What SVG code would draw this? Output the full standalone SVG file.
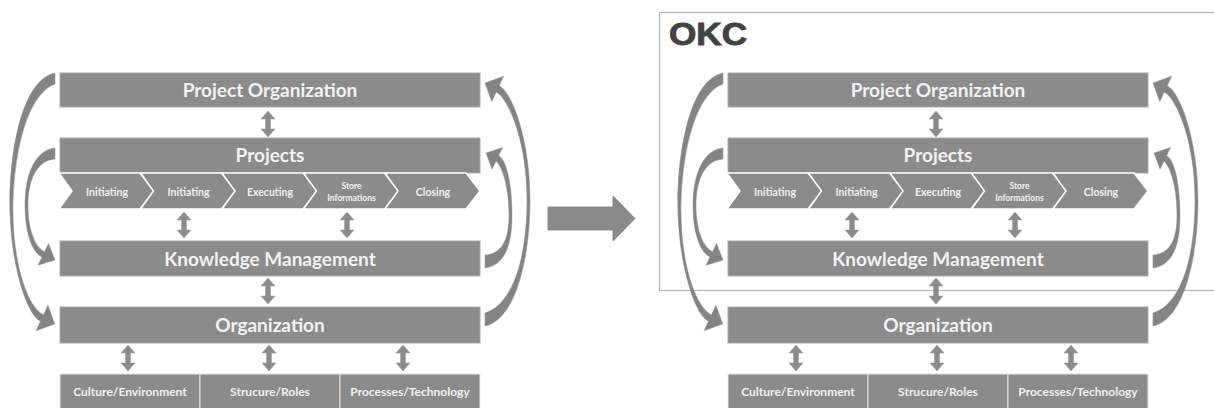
<svg xmlns="http://www.w3.org/2000/svg" width="1214" height="408" viewBox="0 0 1214 408">
  <defs>
    <style>
      .bar { fill: #8b8b8b; stroke: #a9a9a9; stroke-width: 1; }
      .chev { fill: #8b8b8b; stroke: #ffffff; stroke-width: 1.5; stroke-linejoin: miter; }
      .cell { fill: #8b8b8b; stroke: #e6e6e6; stroke-width: 1; }
      .arc { fill: #848484; stroke: #8f8f8f; stroke-width: 0.5; }
      .dbl { fill: #8b8b8b; stroke: #9a9a9a; stroke-width: 0.5; }
      .title { font-family: Lato, "Liberation Sans", sans-serif; font-weight: 700; font-size: 19px; fill: #f2f2f2; text-anchor: middle; }
      .step { font-family: Lato, "Liberation Sans", sans-serif; font-weight: 700; font-size: 10.5px; fill: #f2f2f2; text-anchor: middle; }
      .small { font-family: Lato, "Liberation Sans", sans-serif; font-weight: 700; font-size: 8.5px; fill: #f2f2f2; text-anchor: middle; }
      .cellt { font-family: Lato, "Liberation Sans", sans-serif; font-weight: 700; font-size: 12px; fill: #f2f2f2; text-anchor: middle; }
      .frame { fill: none; stroke: #b4b4b4; stroke-width: 1.2; }
      .okc { font-family: "Liberation Sans", Arial, sans-serif; font-weight: 700; font-size: 31px; fill: #434343; stroke: #434343; stroke-width: 0.9; }
    </style>
    <!-- vertical two-headed arrow, centred on the origin -->
    <path id="updown" d="M0,-13 L7,-5 L2.5,-5 L2.5,5 L7,5 L0,13 L-7,5 L-2.5,5 L-2.5,-5 L-7,-5 Z"/>
  </defs>

  <!-- OKC boundary (open on the right) -->
  <g id="okc-frame">
    <rect class="frame" x="659.5" y="12.5" width="600" height="278"/>
    <text class="okc" x="669" y="45" textLength="78" lengthAdjust="spacingAndGlyphs">OKC</text>
  </g>

  <!-- transition arrow between the two models -->
  <g id="transition">
    <polygon points="548,207 613,207 613,196 635,218.5 613,241 613,230 548,230" fill="#8a8a8a" stroke="#7a7a7a" stroke-width="0.8"/>
  </g>

  <!-- ===== current model ===== -->
  <g id="model-a">
    <g id="a-project-org">
      <rect class="bar" x="60" y="73" width="420" height="34"/>
      <text class="title" x="270" y="97">Project Organization</text>
    </g>
    <g id="a-projects">
      <rect class="bar" x="60" y="138" width="420" height="35"/>
      <text class="title" x="270" y="162">Projects</text>
    </g>
    <g id="a-phases">
      <polygon class="chev" points="59,173 140,173 154,191 140,209 59,209 72,191"/>
      <polygon class="chev" points="140.5,173 221.5,173 235.5,191 221.5,209 140.5,209 153.5,191"/>
      <polygon class="chev" points="222,173 303,173 317,191 303,209 222,209 235,191"/>
      <polygon class="chev" points="303.5,173 384.5,173 398.5,191 384.5,209 303.5,209 316.5,191"/>
      <polygon class="chev" points="385,173 466,173 480,191 466,209 385,209 398,191"/>
      <text class="step" x="107" y="196">Initiating</text>
      <text class="step" x="188.5" y="196">Initiating</text>
      <text class="step" x="270" y="196">Executing</text>
      <text class="small" x="351.5" y="189">Store</text>
      <text class="small" x="351.5" y="200.5">Informations</text>
      <text class="step" x="433" y="196">Closing</text>
    </g>
    <g id="a-knowledge">
      <rect class="bar" x="60" y="241" width="420" height="35"/>
      <text class="title" x="270" y="265.5">Knowledge Management</text>
    </g>
    <g id="a-organization">
      <rect class="bar" x="60" y="307" width="420" height="36"/>
      <text class="title" x="270" y="332">Organization</text>
    </g>
    <g id="a-culture">
      <rect class="cell" x="60" y="374" width="140" height="36"/>
      <text class="cellt" x="130" y="396">Culture/Environment</text>
    </g>
    <g id="a-structure">
      <rect class="cell" x="200" y="374" width="140" height="36"/>
      <text class="cellt" x="270" y="396">Strucure/Roles</text>
    </g>
    <g id="a-processes">
      <rect class="cell" x="340" y="374" width="140" height="36"/>
      <text class="cellt" x="410" y="396">Processes/Technology</text>
    </g>
    <g id="a-connectors">
      <use href="#updown" class="dbl" x="268" y="124"/>
      <use href="#updown" class="dbl" x="184" y="225"/>
      <use href="#updown" class="dbl" x="347" y="225"/>
      <use href="#updown" class="dbl" x="268" y="291"/>
      <use href="#updown" class="dbl" x="128" y="358"/>
      <use href="#updown" class="dbl" x="269" y="358"/>
      <use href="#updown" class="dbl" x="403" y="358"/>
      <!-- left loops -->
      <path class="arc" d="M55,73 C20,80 8,160 10,215 C12,268 27,315 40.5,321.2 L36.1,330.7 L54.7,323.9 L47.9,305.3 L43.5,314.8 C30,309 14,272 13,215 C12.5,160 25,95 55,84 Z"/>
      <path class="arc" d="M55,148 C35,150 25,175 25,205 C25,235 33,252.8 42,257.1 L38.1,265.2 L55,260 L48.5,243.6 L44.6,251.7 C36,248 28,232 28,205 C28,178 38,160 55,159 Z"/>
      <!-- right loops -->
      <path class="arc" d="M485,326 C515,320 530,260 530,200 C530,140 512,92 499.2,85.7 L503.6,76.2 L485,83 L491.8,101.6 L496.2,92.1 C508,98 527,140 527,200 C527,260 512,305 485,313 Z"/>
      <path class="arc" d="M485,268 C505,265 512,245 512,215 C512,185 506.6,159.5 498.6,155.7 L502.5,147.6 L486,153 L492.1,169.2 L496,161.1 C503,168 509,188 509,215 C509,240 502,254 485,255 Z"/>
    </g>
  </g>

  <!-- ===== OKC model ===== -->
  <g id="model-b" transform="translate(668,0)">
    <g id="b-project-org">
      <rect class="bar" x="60" y="73" width="420" height="34"/>
      <text class="title" x="270" y="97">Project Organization</text>
    </g>
    <g id="b-projects">
      <rect class="bar" x="60" y="138" width="420" height="35"/>
      <text class="title" x="270" y="162">Projects</text>
    </g>
    <g id="b-phases">
      <polygon class="chev" points="59,173 140,173 154,191 140,209 59,209 72,191"/>
      <polygon class="chev" points="140.5,173 221.5,173 235.5,191 221.5,209 140.5,209 153.5,191"/>
      <polygon class="chev" points="222,173 303,173 317,191 303,209 222,209 235,191"/>
      <polygon class="chev" points="303.5,173 384.5,173 398.5,191 384.5,209 303.5,209 316.5,191"/>
      <polygon class="chev" points="385,173 466,173 480,191 466,209 385,209 398,191"/>
      <text class="step" x="107" y="196">Initiating</text>
      <text class="step" x="188.5" y="196">Initiating</text>
      <text class="step" x="270" y="196">Executing</text>
      <text class="small" x="351.5" y="189">Store</text>
      <text class="small" x="351.5" y="200.5">Informations</text>
      <text class="step" x="433" y="196">Closing</text>
    </g>
    <g id="b-knowledge">
      <rect class="bar" x="60" y="241" width="420" height="35"/>
      <text class="title" x="270" y="265.5">Knowledge Management</text>
    </g>
    <g id="b-organization">
      <rect class="bar" x="60" y="307" width="420" height="36"/>
      <text class="title" x="270" y="332">Organization</text>
    </g>
    <g id="b-culture">
      <rect class="cell" x="60" y="374" width="140" height="36"/>
      <text class="cellt" x="130" y="396">Culture/Environment</text>
    </g>
    <g id="b-structure">
      <rect class="cell" x="200" y="374" width="140" height="36"/>
      <text class="cellt" x="270" y="396">Strucure/Roles</text>
    </g>
    <g id="b-processes">
      <rect class="cell" x="340" y="374" width="140" height="36"/>
      <text class="cellt" x="410" y="396">Processes/Technology</text>
    </g>
    <g id="b-connectors">
      <use href="#updown" class="dbl" x="268" y="124"/>
      <use href="#updown" class="dbl" x="184" y="225"/>
      <use href="#updown" class="dbl" x="347" y="225"/>
      <use href="#updown" class="dbl" x="268" y="291"/>
      <use href="#updown" class="dbl" x="128" y="358"/>
      <use href="#updown" class="dbl" x="269" y="358"/>
      <use href="#updown" class="dbl" x="403" y="358"/>
      <path class="arc" d="M55,73 C20,80 8,160 10,215 C12,268 27,315 40.5,321.2 L36.1,330.7 L54.7,323.9 L47.9,305.3 L43.5,314.8 C30,309 14,272 13,215 C12.5,160 25,95 55,84 Z"/>
      <path class="arc" d="M55,148 C35,150 25,175 25,205 C25,235 33,252.8 42,257.1 L38.1,265.2 L55,260 L48.5,243.6 L44.6,251.7 C36,248 28,232 28,205 C28,178 38,160 55,159 Z"/>
      <path class="arc" d="M485,326 C515,320 530,260 530,200 C530,140 512,92 499.2,85.7 L503.6,76.2 L485,83 L491.8,101.6 L496.2,92.1 C508,98 527,140 527,200 C527,260 512,305 485,313 Z"/>
      <path class="arc" d="M485,268 C505,265 512,245 512,215 C512,185 506.6,159.5 498.6,155.7 L502.5,147.6 L486,153 L492.1,169.2 L496,161.1 C503,168 509,188 509,215 C509,240 502,254 485,255 Z"/>
    </g>
  </g>
</svg>
